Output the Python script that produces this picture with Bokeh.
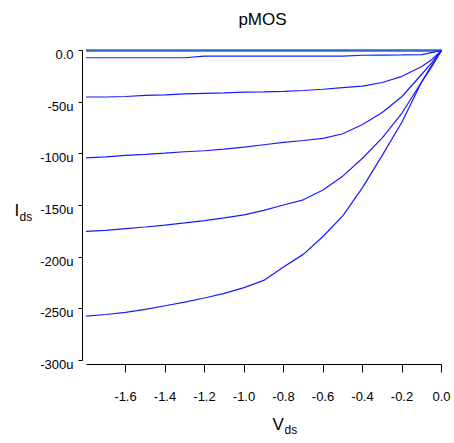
from bokeh.plotting import figure
from bokeh.models import Range1d, FixedTicker, Label, LinearAxis
from bokeh.core.properties import value
from bokeh.embed import file_html
from bokeh.resources import INLINE

# Drain-source voltage (V)
vds = [-1.8, -1.7, -1.6, -1.5, -1.4, -1.3, -1.2, -1.1, -1.0, -0.9,
       -0.8, -0.7, -0.6, -0.5, -0.4, -0.3, -0.2, -0.1, -0.05, 0.0]

# Drain current (micro-amps), one curve per gate voltage
ids_0 = [0.0, 0.0, 0.0, 0.0, 0.0, 0.0, 0.0, 0.0, 0.0, 0.0,
         0.0, 0.0, 0.0, 0.0, 0.0, 0.0, 0.0, 0.0, 0.0, 0.0]
ids_1 = [-7.0, -7.0, -7.0, -7.0, -7.0, -7.0, -5.4, -5.4, -5.4, -5.4,
         -5.4, -5.4, -5.4, -5.4, -4.6, -4.4, -4.3, -4.0, -2.0, 0.0]
ids_2 = [-45.0, -45.0, -44.5, -43.5, -43.0, -42.0, -41.5, -41.0, -40.3, -40.0,
         -39.5, -38.7, -37.5, -36.0, -34.5, -31.0, -25.0, -15.5, -9.0, 0.0]
ids_3 = [-104.0, -103.0, -101.5, -100.5, -99.3, -98.0, -97.0, -95.5, -93.5, -91.2,
         -89.0, -87.1, -85.0, -80.6, -71.6, -60.0, -44.5, -23.0, -12.0, 0.0]
ids_4 = [-175.0, -174.0, -172.3, -170.8, -169.0, -166.9, -164.7, -162.0, -159.0, -154.7,
         -149.5, -144.5, -135.0, -121.6, -104.3, -84.5, -60.5, -30.4, -16.0, 0.0]
ids_5 = [-257.0, -255.5, -253.5, -250.5, -247.0, -243.5, -239.5, -235.0, -229.5, -222.5,
         -209.6, -197.3, -180.0, -160.0, -132.7, -101.5, -69.2, -30.3, -14.4, 0.0]

x_ticks = [-1.6, -1.4, -1.2, -1.0, -0.8, -0.6, -0.4, -0.2, 0.0]
x_tick_labels = ["-1.6", "-1.4", "-1.2", "-1.0", "-0.8", "-0.6", "-0.4", "-0.2", "0.0"]
y_ticks = [0, -50, -100, -150, -200, -250, -300]
y_tick_labels = ["0.0", "-50u", "-100u", "-150u", "-200u", "-250u", "-300u"]

FONT = "Liberation Sans"

# plot frame covers the whole canvas; axes are pinned with fixed_location
PX_PER_V = 197.5
PX_PER_U = 51.667 / 50.0
X0_PX, Y0_PX = 441.0, 50.0   # pixel position of (0 V, 0 A)
W, H = 454, 443

def xv(px):
    return (px - X0_PX) / PX_PER_V

def yu(py):
    return -(py - Y0_PX) / PX_PER_U

p = figure(width=W, height=H, output_backend="svg", toolbar_location=None,
           x_range=Range1d(xv(0), xv(W)), y_range=Range1d(yu(H), yu(0)),
           x_axis_location=None, y_axis_location=None,
           min_border=0, min_border_left=0, min_border_right=0,
           min_border_top=0, min_border_bottom=0)
p.outline_line_color = None
p.grid.visible = False
p.background_fill_color = "white"
p.border_fill_color = "white"

def style_axis(ax, tick_out, standoff):
    ax.minor_tick_line_color = None
    ax.major_tick_in = 0
    ax.major_tick_out = tick_out
    ax.major_label_standoff = standoff
    ax.axis_line_color = "black"
    ax.major_tick_line_color = "black"
    ax.major_label_text_font = FONT
    ax.major_label_text_font_size = "13px"
    ax.major_label_text_color = "black"

xa = LinearAxis(ticker=FixedTicker(ticks=x_ticks),
                major_label_overrides=dict(zip(x_ticks, x_tick_labels)),
                bounds=(vds[0], vds[-1]), fixed_location=yu(364))
style_axis(xa, 8, 19)
p.add_layout(xa, "below")

ya = LinearAxis(ticker=FixedTicker(ticks=y_ticks),
                bounds=(y_ticks[-1], y_ticks[0]), fixed_location=xv(82))
style_axis(ya, 4, 5)
ya.major_label_text_color = None
p.add_layout(ya, "left")

# y tick labels sit slightly below their ticks, as in the original
p.text(x=[xv(73)] * len(y_ticks), y=y_ticks, text=y_tick_labels,
       text_font=value(FONT), text_font_size="13px", text_color="black",
       text_align="right", text_baseline="middle", y_offset=4)

# curves
p.line(vds, ids_0, line_color="#2a6cc8", line_width=2.5)
for ids in (ids_1, ids_2, ids_3, ids_4, ids_5):
    p.line(vds, ids, line_color="#1a1aff", line_width=1.2)

# texts
def add_label(px, py, text, size, align="left"):
    p.add_layout(Label(x=xv(px), y=yu(py), text=text,
                       text_font=FONT, text_font_size=size, text_color="black",
                       text_align=align, text_baseline="alphabetic"))

add_label(262, 19, "pMOS", "17px", align="center")
add_label(272, 424, "V", "17px")
add_label(284, 429, "ds", "12px")
add_label(14, 210, "I", "17px")
add_label(19, 216, "ds", "12px")

open("out.html", "w").write(file_html(p, INLINE))
